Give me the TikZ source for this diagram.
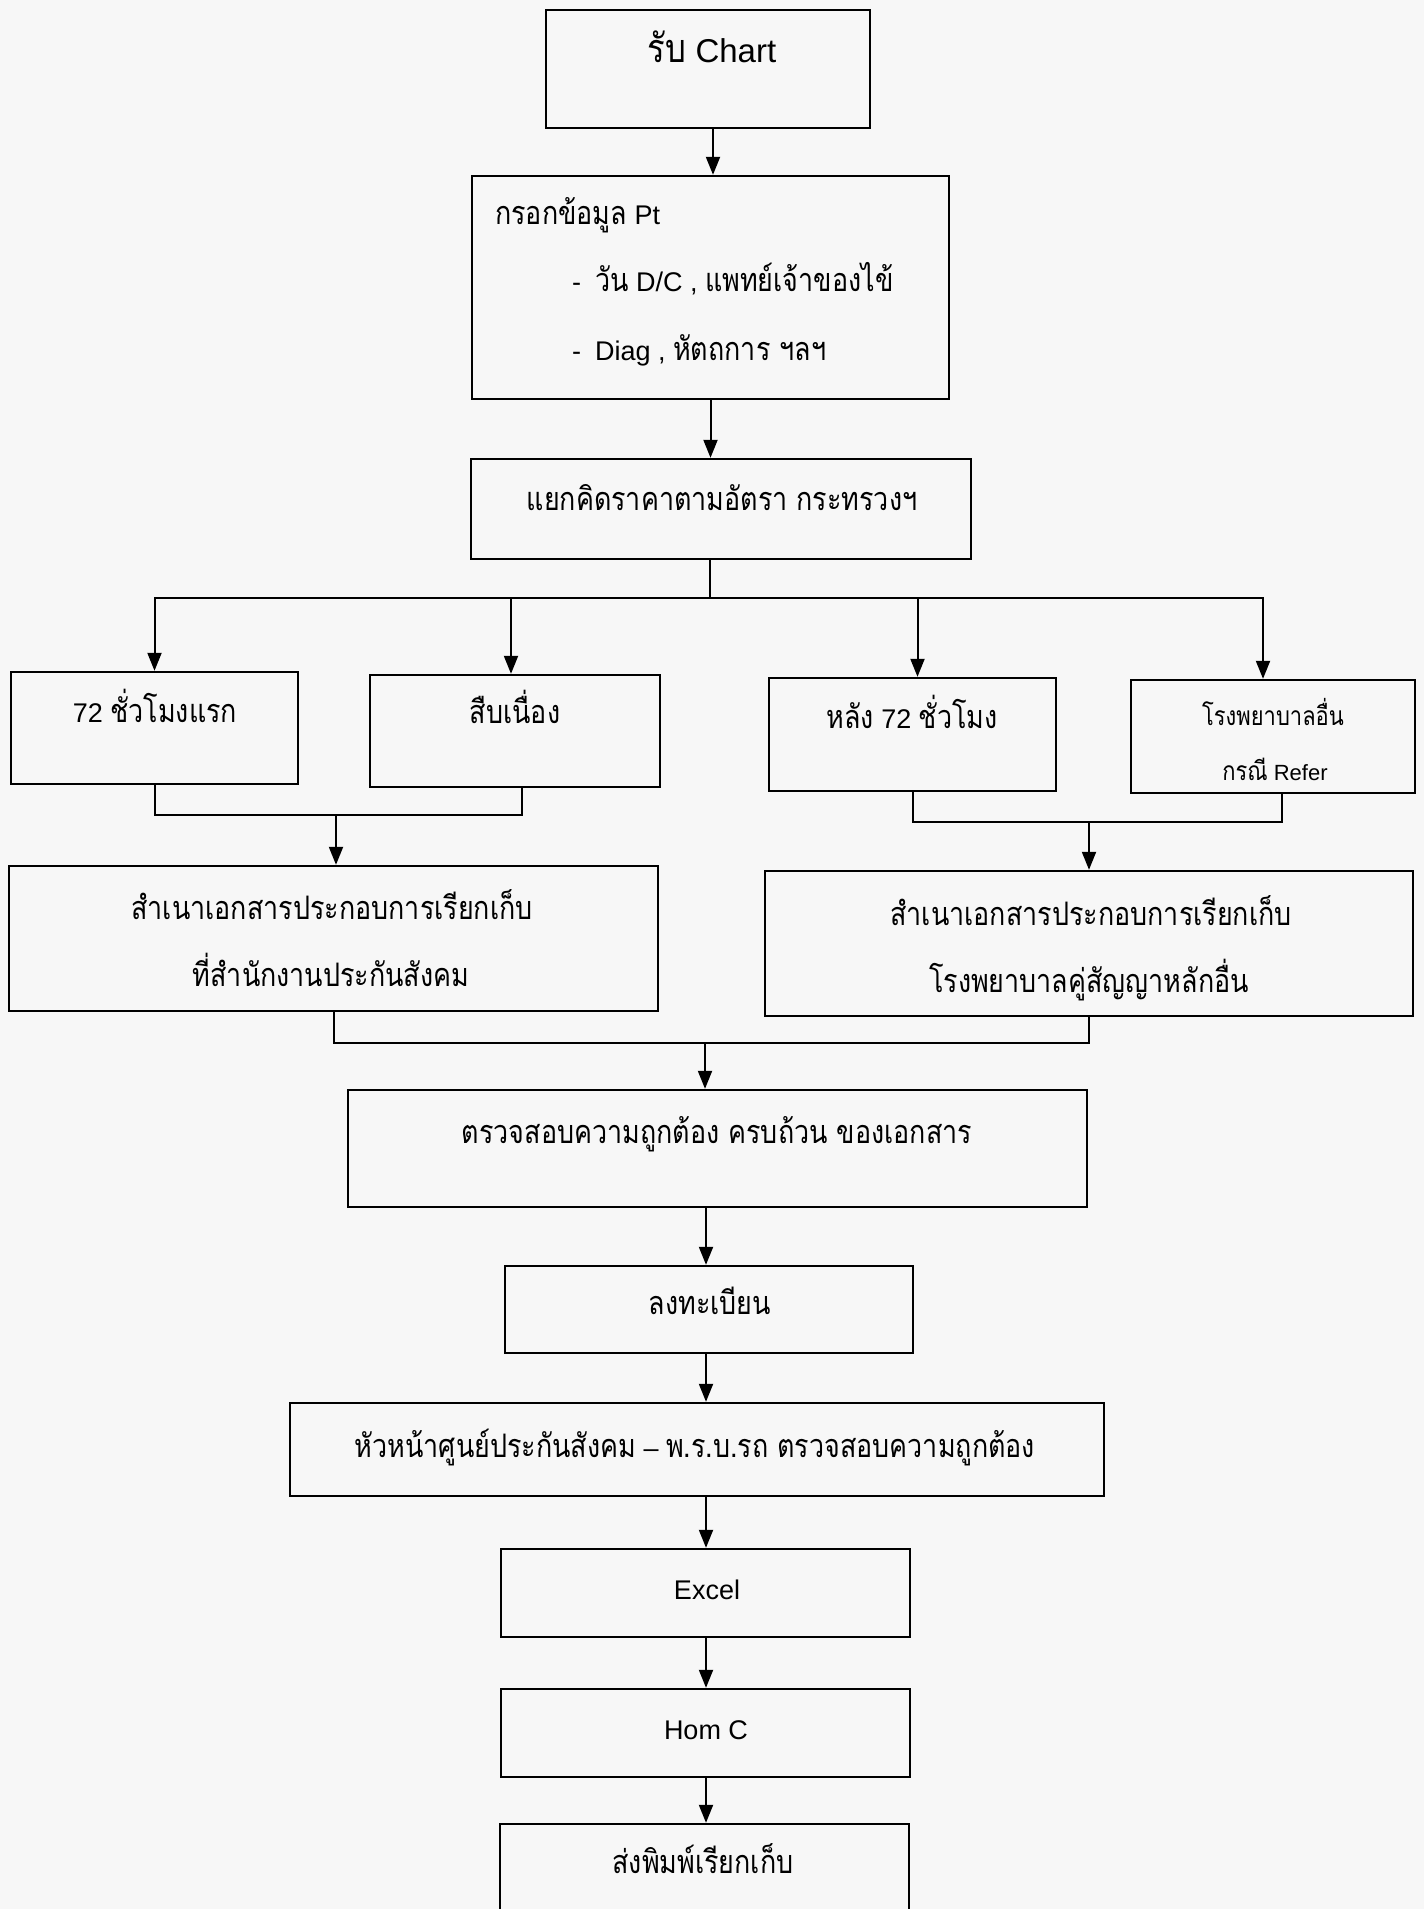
\documentclass[tikz,border=0pt]{standalone}
\usepackage{fontspec}
\setmainfont{Liberation Sans}
\newfontfamily\thaifont[Script=Thai,Scale=1.2,FakeStretch=0.83]{Loma}
\usetikzlibrary{arrows.meta}

\begin{document}
\begin{tikzpicture}[x=1pt, y=-1pt,
    box/.style={draw, line width=2.4pt, inner sep=0pt},
    lbl/.style={inner sep=0pt, font=\fontsize{27}{30}\selectfont, text height=20pt, text depth=6pt, yshift=-4pt},
    wire/.style={line width=2pt},
    arr/.style={line width=2pt, -{Triangle[length=18pt,width=14pt]}}]
  \useasboundingbox (0,0) rectangle (1424,1909);
  \clip (0,0) rectangle (1424,1909);
  \fill[black!3] (0,0) rectangle (1424,1909);

  % Boxes (top to bottom)
  \node (chart) at (708,69) [box, minimum width=324pt, minimum height=118pt] {};
  \node (fill) at (710.5,287.5) [box, minimum width=477pt, minimum height=223pt] {};
  \node (split) at (721,509) [box, minimum width=500pt, minimum height=100pt] {};

  \node (first72) at (154.5,728) [box, minimum width=287pt, minimum height=112pt] {};
  \node (cont) at (515,731) [box, minimum width=290pt, minimum height=112pt] {};
  \node (after72) at (912.5,734.5) [box, minimum width=287pt, minimum height=113pt] {};
  \node (refer) at (1273,736.5) [box, minimum width=284pt, minimum height=113pt] {};

  \node (copysso) at (333.5,938.5) [box, minimum width=649pt, minimum height=145pt] {};
  \node (copyhosp) at (1089,943.5) [box, minimum width=648pt, minimum height=145pt] {};

  \node (check) at (717.5,1148.5) [box, minimum width=739pt, minimum height=117pt] {};
  \node (reg) at (709,1309.5) [box, minimum width=408pt, minimum height=87pt] {};
  \node (head) at (697,1449.5) [box, minimum width=814pt, minimum height=93pt] {};
  \node (excel) at (705.5,1593) [box, minimum width=409pt, minimum height=88pt] {};
  \node (homc) at (705.5,1733) [box, minimum width=409pt, minimum height=88pt] {};
  \node (send) at (704.5,1868) [box, minimum width=409pt, minimum height=88pt] {};

  % Texts
  \node (chart-t) at (712,51) [lbl, font=\fontsize{33}{36}\selectfont] {{\thaifont รับ} Chart};
  \node (fill-t1) at (495,213) [lbl, anchor=west] {{\thaifont กรอกข้อมูล} Pt};
  \node (fill-t2) at (572,280) [lbl, anchor=west] {-\hspace{14pt}{\thaifont วัน} D/C , {\thaifont แพทย์เจ้าของไข้}};
  \node (fill-t3) at (572,349) [lbl, anchor=west] {-\hspace{14pt}Diag , {\thaifont หัตถการ ฯลฯ}};
  \node (split-t) at (722,499) [lbl] {\thaifont แยกคิดราคาตามอัตรา กระทรวงฯ};

  \node (first72-t) at (155,711) [lbl] {72 {\thaifont ชั่วโมงแรก}};
  \node (cont-t) at (515,712) [lbl] {\thaifont สืบเนื่อง};
  \node (after72-t) at (912,717) [lbl] {{\thaifont หลัง} 72 {\thaifont ชั่วโมง}};
  \node (refer-t1) at (1273,714) [lbl, font=\fontsize{22}{26}\selectfont] {\thaifont โรงพยาบาลอื่น};
  \node (refer-t2) at (1275,769) [lbl, font=\fontsize{22}{26}\selectfont] {{\thaifont กรณี} Refer};

  \node (copysso-t1) at (332,908) [lbl] {\thaifont สำเนาเอกสารประกอบการเรียกเก็บ};
  \node (copysso-t2) at (331,975) [lbl] {\thaifont ที่สำนักงานประกันสังคม};
  \node (copyhosp-t1) at (1091,914) [lbl] {\thaifont สำเนาเอกสารประกอบการเรียกเก็บ};
  \node (copyhosp-t2) at (1089,981) [lbl] {\thaifont โรงพยาบาลคู่สัญญาหลักอื่น};

  \node (check-t) at (717,1132) [lbl] {\thaifont ตรวจสอบความถูกต้อง ครบถ้วน ของเอกสาร};
  \node (reg-t) at (710,1303) [lbl] {\thaifont ลงทะเบียน};
  \node (head-t) at (695,1446) [lbl] {{\thaifont หัวหน้าศูนย์ประกันสังคม} -- {\thaifont พ.ร.บ.รถ ตรวจสอบความถูกต้อง}};
  \node (excel-t) at (707,1588) [lbl] {Excel};
  \node (homc-t) at (706,1728) [lbl] {Hom C};
  \node (send-t) at (703,1862) [lbl] {\thaifont ส่งพิมพ์เรียกเก็บ};

  % Connectors (top part)
  \draw[arr] ([xshift=5pt]chart.south) -- ([xshift=5pt]chart.south |- fill.north);
  \draw[arr] (fill.south) -- (fill.south |- split.north);

  % Branch to the four cases
  \coordinate (branch) at (710,598);
  \draw[wire] (split.south -| branch) -- (branch);
  \draw[arr] (branch) -| (first72.north);
  \draw[arr] (branch) -| ([xshift=-4pt]cont.north);
  \draw[arr] (branch) -| ([xshift=5pt]after72.north);
  \draw[arr] (branch) -| ([xshift=-10pt]refer.north);

  % Merges
  \coordinate (mergeL) at (336,815);
  \draw[wire] (first72.south) |- (mergeL) -| ([xshift=7pt]cont.south);
  \draw[arr] (mergeL) -- (mergeL |- copysso.north);
  \coordinate (mergeR) at (1089,822);
  \draw[wire] (after72.south) |- (mergeR) -| ([xshift=9pt]refer.south);
  \draw[arr] (mergeR) -- (mergeR |- copyhosp.north);
  \coordinate (mergeB) at (705,1043);
  \draw[wire] (copysso.south) |- (mergeB) -| (copyhosp.south);
  \draw[arr] (mergeB) -- (mergeB |- check.north);

  % Connectors (bottom part)
  \coordinate (spine) at (706,0);
  \draw[arr] (spine |- check.south) -- (spine |- reg.north);
  \draw[arr] (spine |- reg.south) -- (spine |- head.north);
  \draw[arr] (spine |- head.south) -- (spine |- excel.north);
  \draw[arr] (spine |- excel.south) -- (spine |- homc.north);
  \draw[arr] (spine |- homc.south) -- (spine |- send.north);
\end{tikzpicture}
\end{document}
